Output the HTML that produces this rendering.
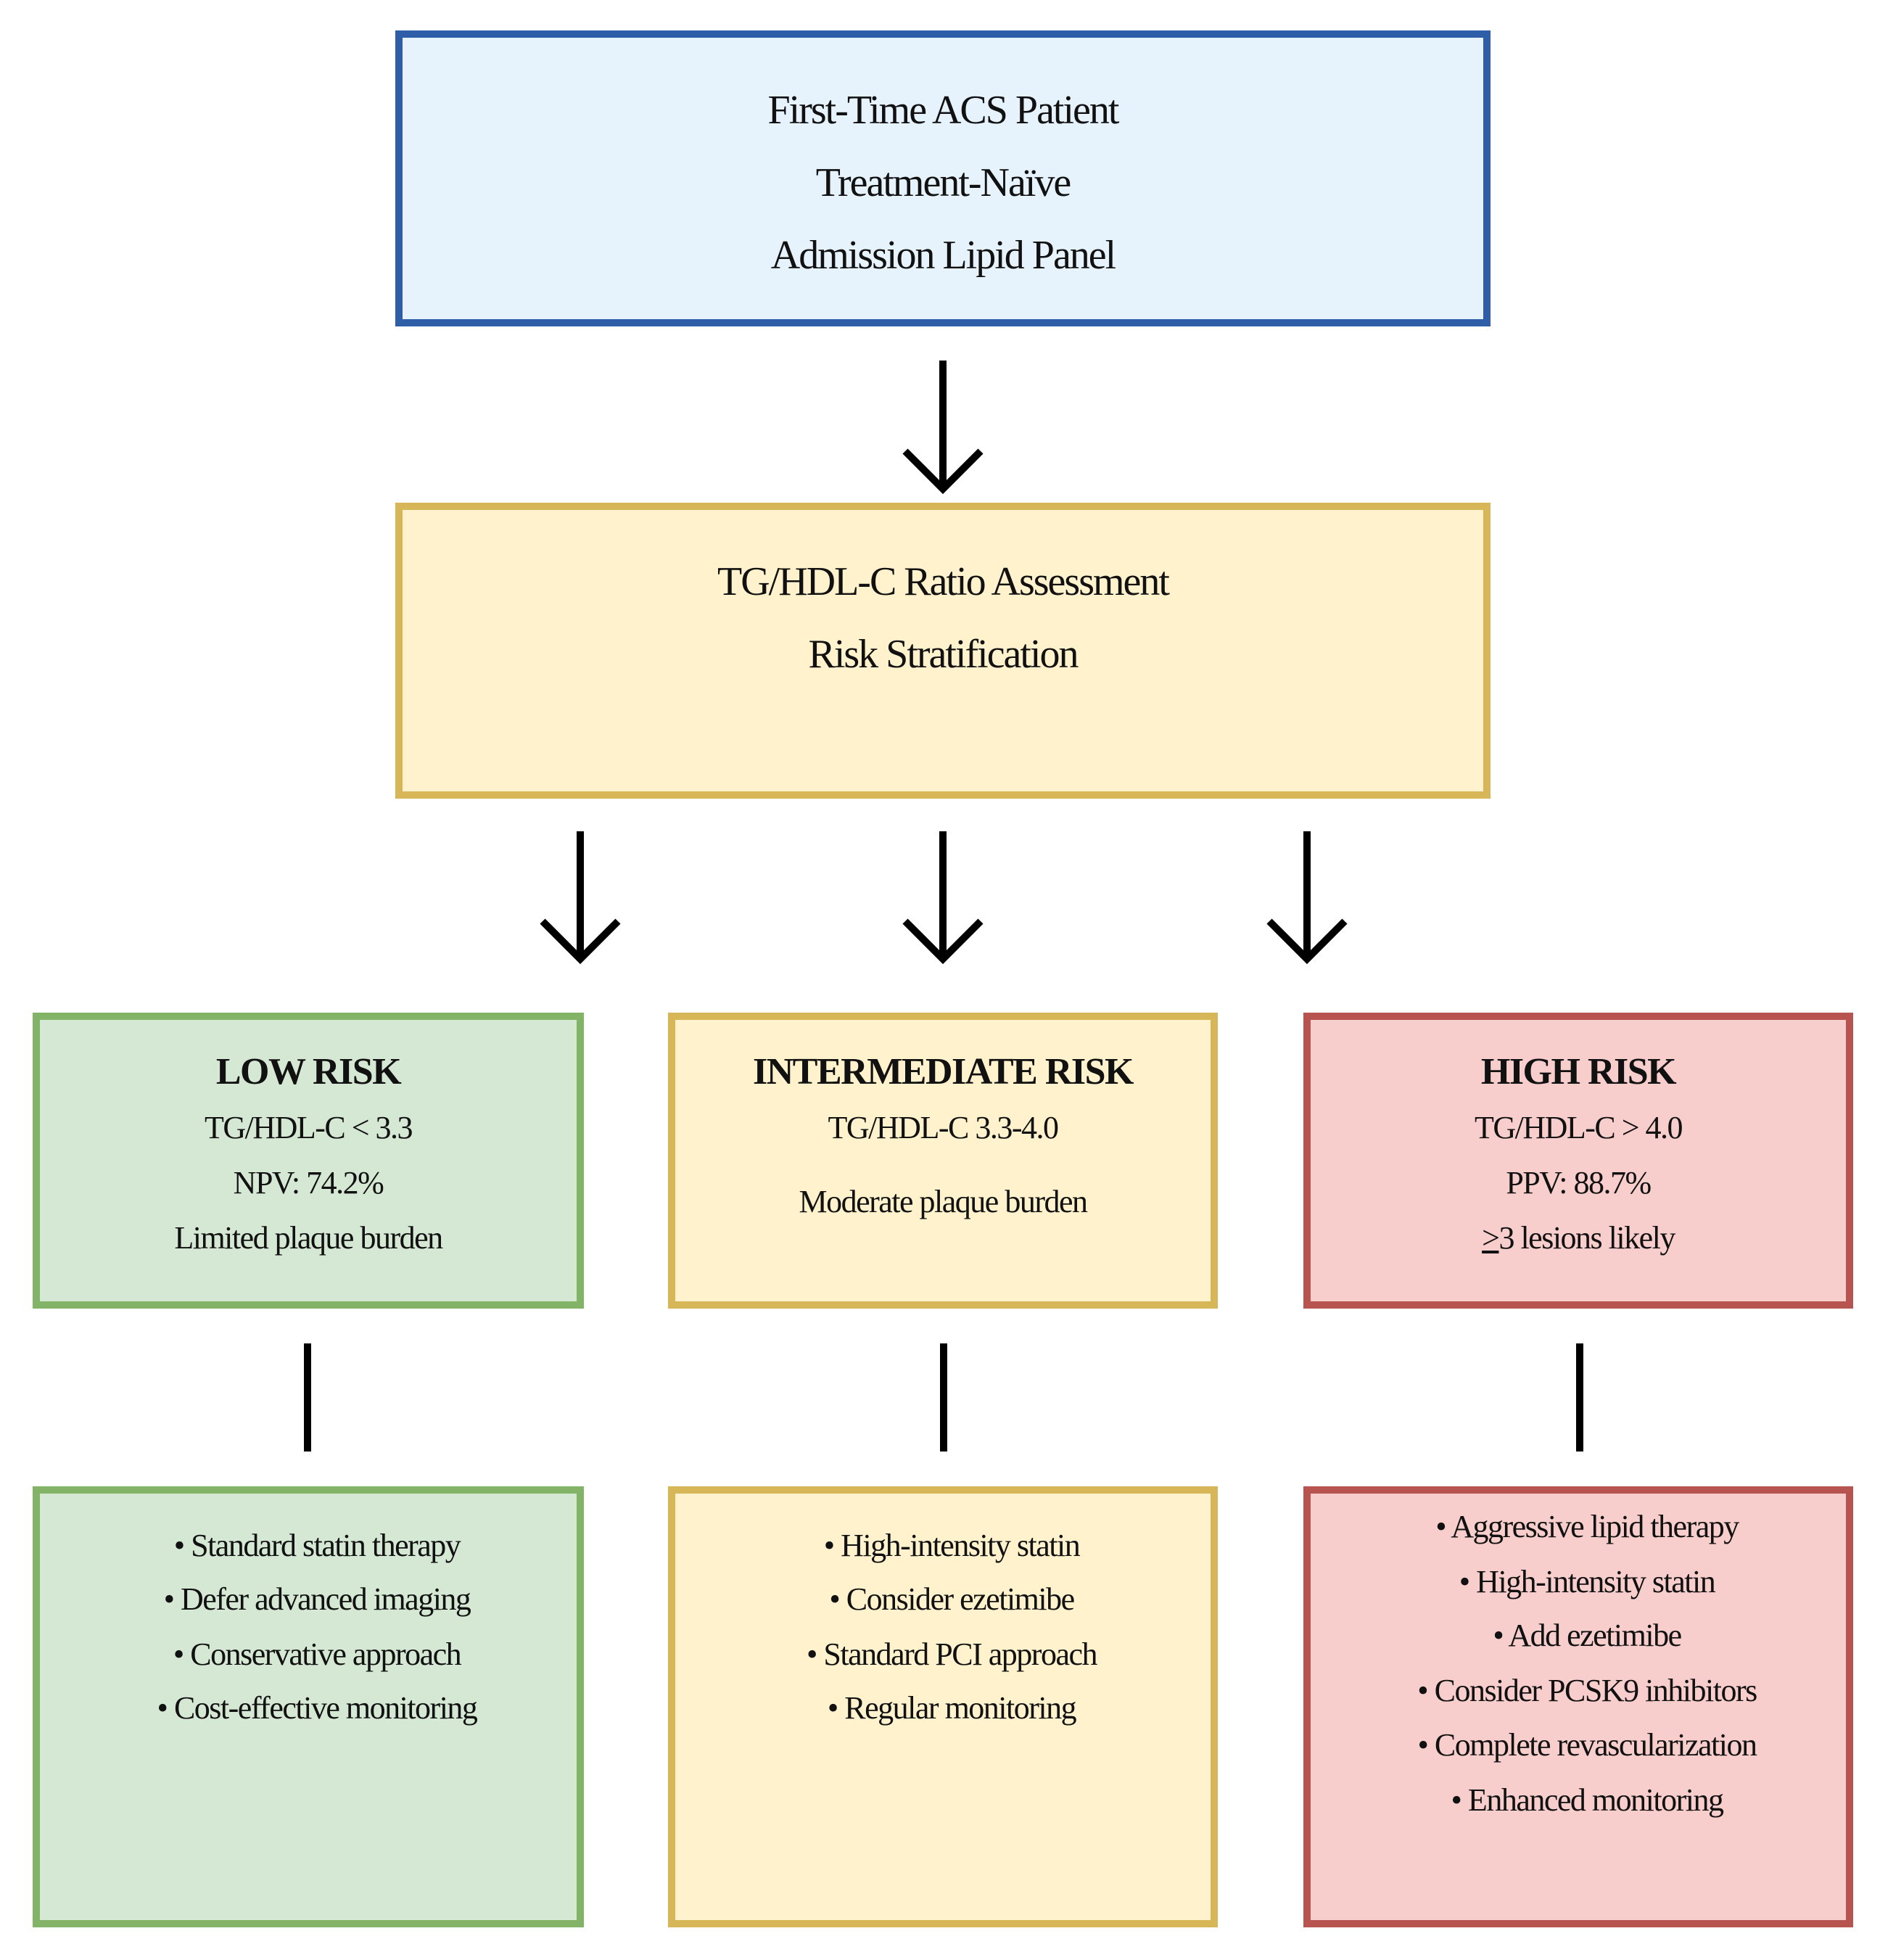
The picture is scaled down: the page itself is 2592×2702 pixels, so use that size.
<!DOCTYPE html>
<html><head><meta charset="utf-8"><style>
body{margin:0;width:2592px;height:2702px;background:#fff;position:relative;overflow:hidden;font-family:"Liberation Serif",serif;color:#111}
.b{position:absolute;box-sizing:border-box;border:10px solid}
.t{position:absolute;left:0;width:100%;text-align:center;white-space:nowrap;transform:translateY(-50%);line-height:1}
.bl{background:#e6f3fc;border-color:#2e5ea8}
.y{background:#fff2cc;border-color:#d6b656}
.g{background:#d5e8d4;border-color:#82b366}
.r{background:#f8cecc;border-color:#b85450}
.big{font-size:56px;letter-spacing:-2px}
.h{font-size:52px;font-weight:bold;letter-spacing:-1.5px}
.s{font-size:44px;letter-spacing:-1.5px}
</style></head><body>
<div class="b bl" style="left:545px;top:42px;width:1510px;height:408px">
 <div class="t big" style="top:100px">First-Time ACS Patient</div>
 <div class="t big" style="top:200px">Treatment-Naïve</div>
 <div class="t big" style="top:300px">Admission Lipid Panel</div>
</div>
<div class="b y" style="left:545px;top:693px;width:1510px;height:408px">
 <div class="t big" style="top:99px">TG/HDL-C Ratio Assessment</div>
 <div class="t big" style="top:199px">Risk Stratification</div>
</div>
<svg style="position:absolute;left:0;top:0" width="2592" height="2702">
<g stroke="#000" stroke-width="10" fill="none">
<line x1="1300" y1="497" x2="1300" y2="668"/><polyline points="1248,622 1300,674 1352,622"/>
<line x1="800" y1="1146" x2="800" y2="1320"/><polyline points="748,1270 800,1322 852,1270"/>
<line x1="1300" y1="1146" x2="1300" y2="1320"/><polyline points="1248,1270 1300,1322 1352,1270"/>
<line x1="1802" y1="1146" x2="1802" y2="1320"/><polyline points="1750,1270 1802,1322 1854,1270"/>
<line x1="424" y1="1852" x2="424" y2="2001"/>
<line x1="1301" y1="1852" x2="1301" y2="2001"/>
<line x1="2178" y1="1852" x2="2178" y2="2001"/>
</g></svg>
<div class="b g" style="left:45px;top:1396px;width:760px;height:408px">
 <div class="t h" style="top:72px">LOW RISK</div>
 <div class="t s" style="top:149px">TG/HDL-C &lt; 3.3</div>
 <div class="t s" style="top:225px">NPV: 74.2%</div>
 <div class="t s" style="top:301px">Limited plaque burden</div>
</div>
<div class="b y" style="left:921px;top:1396px;width:758px;height:408px">
 <div class="t h" style="top:72px">INTERMEDIATE RISK</div>
 <div class="t s" style="top:149px">TG/HDL-C 3.3-4.0</div>
 <div class="t s" style="top:251px">Moderate plaque burden</div>
</div>
<div class="b r" style="left:1797px;top:1396px;width:758px;height:408px">
 <div class="t h" style="top:72px">HIGH RISK</div>
 <div class="t s" style="top:149px">TG/HDL-C &gt; 4.0</div>
 <div class="t s" style="top:225px">PPV: 88.7%</div>
 <div class="t s" style="top:301px"><u>&gt;</u>3 lesions likely</div>
</div>
<div class="b g" style="left:45px;top:2049px;width:760px;height:608px">
 <div class="t s" style="top:72px;left:12px">• Standard statin therapy</div>
 <div class="t s" style="top:146px;left:12px">• Defer advanced imaging</div>
 <div class="t s" style="top:222px;left:12px">• Conservative approach</div>
 <div class="t s" style="top:296px;left:12px">• Cost-effective monitoring</div>
</div>
<div class="b y" style="left:921px;top:2049px;width:758px;height:608px">
 <div class="t s" style="top:72px;left:12px">• High-intensity statin</div>
 <div class="t s" style="top:146px;left:12px">• Consider ezetimibe</div>
 <div class="t s" style="top:222px;left:12px">• Standard PCI approach</div>
 <div class="t s" style="top:296px;left:12px">• Regular monitoring</div>
</div>
<div class="b r" style="left:1797px;top:2049px;width:758px;height:608px">
 <div class="t s" style="top:46px;left:12px">• Aggressive lipid therapy</div>
 <div class="t s" style="top:122px;left:12px">• High-intensity statin</div>
 <div class="t s" style="top:196px;left:12px">• Add ezetimibe</div>
 <div class="t s" style="top:272px;left:12px">• Consider PCSK9 inhibitors</div>
 <div class="t s" style="top:347px;left:12px">• Complete revascularization</div>
 <div class="t s" style="top:423px;left:12px">• Enhanced monitoring</div>
</div>
</body></html>
